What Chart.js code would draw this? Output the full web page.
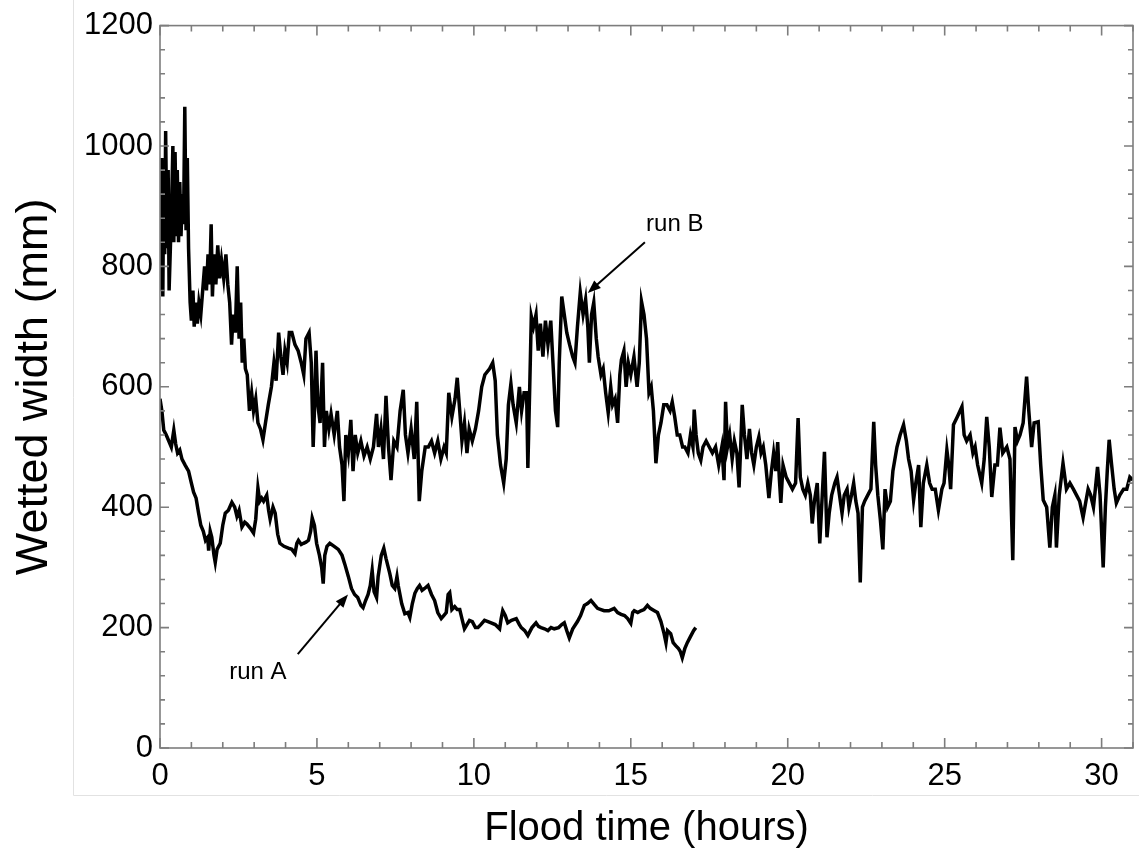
<!DOCTYPE html>
<html>
<head>
<meta charset="utf-8">
<script src="https://cdn.jsdelivr.net/npm/chart.js@4.4.1/dist/chart.umd.min.js"></script>
<style>
  html, body { margin: 0; padding: 0; background: #fff; }
  canvas { display: block; }
</style>
</head>
<body>
<canvas id="chart" width="1139" height="861"></canvas>
<script>
// run B: wetted width (mm) against flood time (hours)
const runBTime = [
  0.00, 0.03, 0.06, 0.09, 0.12, 0.15, 0.18, 0.22, 0.26, 0.29, 0.33, 0.37, 0.41, 0.44, 0.48, 0.52,
  0.55, 0.59, 0.63, 0.67, 0.71, 0.75, 0.79, 0.83, 0.87, 0.91, 0.96, 1.00, 1.05, 1.09, 1.14, 1.19,
  1.24, 1.30, 1.36, 1.42, 1.48, 1.53, 1.58, 1.63, 1.67, 1.72, 1.78, 1.84, 1.90, 1.96, 2.03, 2.10,
  2.16, 2.22, 2.28, 2.33, 2.40, 2.46, 2.52, 2.57, 2.62, 2.67, 2.72, 2.78, 2.85, 2.92, 2.98, 3.05,
  3.12, 3.20, 3.28, 3.36, 3.45, 3.55, 3.63, 3.70, 3.78, 3.85, 3.92, 3.98, 4.05, 4.12, 4.20, 4.30,
  4.40, 4.50, 4.58, 4.65, 4.75, 4.82, 4.88, 4.92, 4.97, 5.03, 5.10, 5.18, 5.24, 5.30, 5.38, 5.45,
  5.55, 5.65, 5.72, 5.80, 5.86, 5.92, 6.00, 6.08, 6.15, 6.22, 6.30, 6.40, 6.50, 6.60, 6.70, 6.80,
  6.90, 6.96, 7.04, 7.12, 7.20, 7.28, 7.36, 7.45, 7.55, 7.65, 7.75, 7.82, 7.90, 8.00, 8.10, 8.18,
  8.26, 8.34, 8.45, 8.55, 8.65, 8.75, 8.85, 8.95, 9.05, 9.12, 9.20, 9.30, 9.40, 9.47, 9.55, 9.62,
  9.70, 9.78, 9.85, 9.95, 10.05, 10.15, 10.25, 10.35, 10.50, 10.60, 10.68, 10.75, 10.85, 10.95, 11.03, 11.10,
  11.18, 11.25, 11.35, 11.45, 11.52, 11.60, 11.68, 11.72, 11.78, 11.83, 11.90, 11.98, 12.05, 12.12, 12.20, 12.28,
  12.36, 12.45, 12.52, 12.60, 12.67, 12.72, 12.80, 12.88, 12.96, 13.05, 13.15, 13.22, 13.30, 13.39, 13.48, 13.56,
  13.63, 13.68, 13.75, 13.82, 13.90, 13.96, 14.05, 14.12, 14.20, 14.28, 14.36, 14.42, 14.50, 14.58, 14.65, 14.70,
  14.78, 14.85, 14.92, 15.00, 15.10, 15.20, 15.27, 15.34, 15.42, 15.50, 15.58, 15.65, 15.72, 15.80, 15.88, 15.96,
  16.05, 16.15, 16.25, 16.32, 16.40, 16.48, 16.56, 16.65, 16.72, 16.82, 16.90, 16.98, 17.02, 17.08, 17.15, 17.23,
  17.30, 17.40, 17.50, 17.60, 17.70, 17.80, 17.90, 17.97, 18.02, 18.08, 18.15, 18.23, 18.30, 18.38, 18.45, 18.50,
  18.55, 18.62, 18.70, 18.78, 18.85, 18.92, 19.00, 19.08, 19.15, 19.22, 19.30, 19.40, 19.48, 19.55, 19.62, 19.68,
  19.73, 19.78, 19.85, 19.95, 20.05, 20.15, 20.25, 20.33, 20.40, 20.48, 20.56, 20.64, 20.72, 20.78, 20.85, 20.94,
  21.02, 21.10, 21.17, 21.25, 21.32, 21.40, 21.50, 21.57, 21.65, 21.73, 21.80, 21.89, 21.95, 22.03, 22.10, 22.17,
  22.24, 22.31, 22.38, 22.45, 22.55, 22.65, 22.74, 22.80, 22.87, 22.95, 23.03, 23.10, 23.18, 23.27, 23.35, 23.48,
  23.58, 23.69, 23.78, 23.85, 23.93, 24.01, 24.08, 24.17, 24.24, 24.32, 24.43, 24.52, 24.60, 24.70, 24.80, 24.91,
  24.98, 25.07, 25.13, 25.19, 25.28, 25.40, 25.55, 25.62, 25.70, 25.81, 25.90, 25.97, 26.05, 26.18, 26.26, 26.34,
  26.42, 26.50, 26.60, 26.68, 26.76, 26.85, 26.98, 27.08, 27.17, 27.24, 27.32, 27.40, 27.50, 27.61, 27.68, 27.77,
  27.85, 27.98, 28.06, 28.14, 28.25, 28.35, 28.43, 28.51, 28.56, 28.65, 28.77, 28.88, 28.99, 29.10, 29.20, 29.30,
  29.41, 29.50, 29.57, 29.65, 29.74, 29.80, 29.87, 29.95, 30.05, 30.12, 30.18, 30.24, 30.32, 30.40, 30.47, 30.58,
  30.70, 30.80, 30.90, 31.00
];
const runBWidth = [
  900, 760, 980, 750, 970, 820, 1025, 830, 960, 760, 830, 900, 1000, 840, 990, 850,
  960, 840, 940, 850, 920, 870, 1065, 860, 980, 830, 740, 710, 760, 700, 740, 705,
  740, 720, 760, 800, 760, 820, 770, 870, 750, 820, 770, 835, 780, 810, 780, 820,
  770, 740, 670, 720, 690, 800, 680, 740, 640, 680, 630, 620, 560, 590, 560, 580,
  540, 530, 512, 540, 570, 600, 640, 610, 690, 650, 620, 660, 640, 690, 690, 670,
  660, 640, 620, 680, 690, 640, 500, 560, 660, 570, 540, 640, 500, 560, 530, 555,
  520, 560, 500, 470, 410, 520, 490, 545, 460, 520, 490, 510, 485, 500, 480, 500,
  555, 500, 530, 480, 585, 500, 445, 510, 500, 560, 595, 520, 490, 530, 480, 575,
  410, 460, 500, 500, 510, 490, 510, 480, 500, 490, 590, 550, 580, 615, 560, 510,
  540, 490, 530, 510, 530, 560, 600, 620, 630, 640, 610, 520, 470, 440, 480, 570,
  605, 570, 540, 600, 560, 590, 590, 465, 600, 717, 700, 720, 660, 705, 650, 710,
  670, 710, 640, 560, 533, 640, 750, 720, 690, 670, 650, 640, 700, 757, 720, 745,
  700, 640, 720, 740, 680, 650, 620, 630, 590, 557, 600, 570, 580, 540, 620, 645,
  660, 600, 640, 620, 650, 600, 640, 742, 720, 680, 590, 600, 560, 473, 520, 540,
  570, 570, 560, 575, 550, 520, 520, 500, 500, 490, 520, 500, 562, 520, 490, 478,
  500, 510, 500, 490, 500, 470, 500, 445, 575, 500, 520, 480, 510, 490, 433, 500,
  570, 520, 480, 530, 490, 470, 500, 517, 490, 500, 470, 415, 460, 490, 460, 508,
  450, 407, 470, 450, 440, 430, 440, 548, 450, 430, 420, 440, 420, 373, 410, 440,
  340, 420, 492, 350, 390, 420, 440, 450, 420, 390, 420, 430, 400, 420, 440, 410,
  390, 275, 400, 410, 420, 430, 542, 470, 420, 380, 330, 430, 400, 410, 460, 500,
  520, 537, 510, 480, 460, 412, 440, 470, 367, 440, 470, 440, 430, 430, 395, 430,
  440, 495, 470, 430, 537, 550, 567, 520, 510, 520, 490, 500, 470, 440, 480, 550,
  500, 417, 470, 470, 532, 490, 500, 480, 312, 533, 510, 520, 540, 617, 560, 500,
  540, 542, 470, 412, 400, 333, 400, 420, 333, 420, 473, 430, 440, 430, 420, 410,
  383, 410, 430, 420, 400, 430, 467, 420, 300, 400, 460, 512, 470, 430, 407, 420,
  430, 430, 450, 445
];

// run A
const runATime = [
  0.00, 0.06, 0.12, 0.20, 0.28, 0.36, 0.44, 0.50, 0.56, 0.63, 0.70, 0.80, 0.91, 1.00, 1.07, 1.15,
  1.23, 1.30, 1.38, 1.45, 1.52, 1.55, 1.60, 1.65, 1.72, 1.76, 1.82, 1.92, 2.00, 2.08, 2.18, 2.29,
  2.38, 2.45, 2.52, 2.61, 2.70, 2.77, 2.88, 2.98, 3.05, 3.12, 3.18, 3.24, 3.30, 3.40, 3.46, 3.51,
  3.60, 3.67, 3.75, 3.82, 3.95, 4.09, 4.20, 4.30, 4.36, 4.41, 4.50, 4.57, 4.65, 4.73, 4.80, 4.85,
  4.92, 4.99, 5.08, 5.15, 5.20, 5.25, 5.32, 5.41, 5.55, 5.68, 5.80, 5.89, 6.00, 6.10, 6.20, 6.30,
  6.40, 6.47, 6.55, 6.63, 6.70, 6.76, 6.82, 6.90, 6.95, 7.05, 7.13, 7.20, 7.32, 7.40, 7.48, 7.55,
  7.59, 7.70, 7.80, 7.90, 7.96, 8.04, 8.12, 8.20, 8.27, 8.35, 8.43, 8.54, 8.65, 8.75, 8.85, 8.96,
  9.04, 9.12, 9.18, 9.23, 9.30, 9.39, 9.47, 9.55, 9.62, 9.70, 9.78, 9.86, 9.95, 10.05, 10.13, 10.22,
  10.34, 10.45, 10.55, 10.68, 10.82, 10.87, 10.92, 11.00, 11.08, 11.20, 11.35, 11.45, 11.51, 11.62, 11.72, 11.85,
  11.98, 12.06, 12.14, 12.25, 12.36, 12.46, 12.56, 12.70, 12.80, 12.88, 12.96, 13.04, 13.15, 13.30, 13.40, 13.52,
  13.62, 13.73, 13.84, 13.94, 14.05, 14.15, 14.30, 14.47, 14.58, 14.69, 14.80, 14.90, 15.00, 15.06, 15.11, 15.22,
  15.32, 15.42, 15.53, 15.62, 15.75, 15.85, 15.96, 16.06, 16.12, 16.17, 16.27, 16.35, 16.43, 16.52, 16.58, 16.64,
  16.72, 16.80, 16.90, 17.00, 17.07
];
const runAWidth = [
  580, 560, 528, 520, 510, 500, 528, 505, 490, 495, 480, 470, 460, 440, 425, 415,
  390, 370, 360, 345, 350, 328, 360, 350, 320, 308, 330, 340, 370, 390, 395, 408,
  400, 385, 395, 367, 375, 372, 365, 357, 380, 432, 410, 415, 410, 420, 395, 380,
  400, 390, 355, 340, 335, 332, 330, 323, 340, 345, 338, 340, 342, 345, 360, 382,
  370, 340, 320, 300, 273, 320, 335, 340, 335, 330, 320, 305, 285, 265, 255, 250,
  237, 233, 245, 255, 270, 295, 260, 250, 285, 320, 332, 315, 290, 270, 265, 285,
  270, 240, 223, 225, 217, 240, 257, 265, 270, 262, 265, 270, 255, 245, 225, 215,
  220, 225, 255, 258, 230, 235, 230, 230, 215, 198, 205, 212, 210, 200, 200, 205,
  212, 210, 208, 205, 198, 215, 228, 220, 208, 212, 215, 205, 200, 195, 187, 200,
  208, 202, 200, 198, 195, 200, 198, 200, 205, 208, 195, 183, 198, 210, 220, 237,
  240, 245, 238, 232, 230, 228, 228, 232, 225, 222, 220, 215, 207, 225, 228, 225,
  228, 230, 237, 232, 228, 225, 210, 190, 175, 195, 190, 175, 170, 165, 160, 150,
  165, 175, 185, 195, 200
];

// axis ranges and tick steps
const xMax = 31;
const yMax = 1200;
const xStep = 5;
const yStep = 200;
const xMinorStep = 1;
const yMinorStep = 40;

// labels with their arrows, in data units [time, width]
const notes = [
  { text: "run B", at: [16.4, 869], from: [15.45, 840], to: [13.63, 756] },
  { text: "run A", at: [3.12, 126], from: [4.39, 156], to: [5.99, 255] },
];

const fontFamily = "'Liberation Sans', Arial, sans-serif";
const toPoints = (xs, ys) => xs.map((t, i) => ({ x: t, y: ys[i] }));

function drawArrow(ctx, x1, y1, x2, y2) {
  const ang = Math.atan2(y2 - y1, x2 - x1);
  const head = 13;
  ctx.beginPath();
  ctx.moveTo(x1, y1);
  ctx.lineTo(x2 - Math.cos(ang) * head * 0.8, y2 - Math.sin(ang) * head * 0.8);
  ctx.stroke();
  ctx.beginPath();
  ctx.moveTo(x2, y2);
  ctx.lineTo(x2 - head * Math.cos(ang) + 5 * Math.sin(ang), y2 - head * Math.sin(ang) - 5 * Math.cos(ang));
  ctx.lineTo(x2 - head * Math.cos(ang) - 5 * Math.sin(ang), y2 - head * Math.sin(ang) + 5 * Math.cos(ang));
  ctx.closePath();
  ctx.fill();
}

const frameTicks = {
  id: "frameTicks",
  beforeDraw(chart) {
    // faint edges of the scanned page
    const ctx = chart.ctx;
    ctx.save();
    ctx.strokeStyle = "#e2e2e2";
    ctx.lineWidth = 1;
    ctx.beginPath();
    ctx.moveTo(73.5, 0);
    ctx.lineTo(73.5, 795.5);
    ctx.lineTo(chart.width, 795.5);
    ctx.stroke();
    ctx.restore();
  },
  afterDatasetsDraw(chart) {
    const { ctx, chartArea: a, scales: { x, y } } = chart;
    ctx.save();
    ctx.strokeStyle = "#7d7d7d";
    ctx.lineWidth = 1.6;
    ctx.strokeRect(a.left, a.top, a.right - a.left, a.bottom - a.top);
    ctx.beginPath();
    for (let t = 0; t <= xMax; t += xMinorStep) {
      const px = x.getPixelForValue(t);
      const len = t % xStep === 0 ? 10 : 6;
      ctx.moveTo(px, a.bottom);
      ctx.lineTo(px, a.bottom - len);
      ctx.moveTo(px, a.top);
      ctx.lineTo(px, a.top + len);
    }
    for (let v = 0; v <= yMax; v += yMinorStep) {
      const py = y.getPixelForValue(v);
      const len = v % yStep === 0 ? 9 : 5;
      ctx.moveTo(a.left, py);
      ctx.lineTo(a.left + len, py);
      ctx.moveTo(a.right, py);
      ctx.lineTo(a.right - len, py);
    }
    ctx.stroke();

    ctx.fillStyle = "#000";
    ctx.strokeStyle = "#000";
    ctx.lineWidth = 2;
    ctx.font = "24px " + fontFamily;
    ctx.textAlign = "center";
    ctx.textBaseline = "middle";
    notes.forEach((n) => {
      ctx.fillText(n.text, x.getPixelForValue(n.at[0]), y.getPixelForValue(n.at[1]));
      drawArrow(ctx,
        x.getPixelForValue(n.from[0]), y.getPixelForValue(n.from[1]),
        x.getPixelForValue(n.to[0]), y.getPixelForValue(n.to[1]));
    });
    ctx.restore();
  },
};

const lineStyle = {
  showLine: true,
  pointRadius: 0,
  borderColor: "#000",
  borderWidth: 3.5,
  tension: 0,
  fill: false,
};

new Chart(document.getElementById("chart"), {
  type: "scatter",
  plugins: [frameTicks],
  data: {
    datasets: [
      { label: "run B", data: toPoints(runBTime, runBWidth), ...lineStyle },
      { label: "run A", data: toPoints(runATime, runAWidth), ...lineStyle },
    ],
  },
  options: {
    responsive: false,
    animation: false,
    layout: { padding: { left: 0, top: 24, right: 6, bottom: 0 } },
    plugins: { legend: { display: false }, tooltip: { enabled: false } },
    scales: {
      x: {
        type: "linear",
        min: 0,
        max: xMax,
        grid: { display: false, drawTicks: false },
        border: { display: false },
        ticks: {
          stepSize: xStep,
          includeBounds: false,
          padding: 10,
          color: "#000",
          font: { family: fontFamily, size: 31 },
          callback: (v) => String(v),
        },
        title: {
          display: true,
          text: "Flood time (hours)",
          color: "#000",
          padding: { top: 0, bottom: 8 },
          font: { family: fontFamily, size: 40 },
        },
        afterFit: (scale) => { scale.height = 113; },
      },
      y: {
        type: "linear",
        min: 0,
        max: yMax,
        grid: { display: false, drawTicks: false },
        border: { display: false },
        ticks: {
          stepSize: yStep,
          padding: 7,
          color: "#000",
          font: { family: fontFamily, size: 31 },
          callback: (v) => String(v),
        },
        title: {
          display: true,
          text: "Wetted width (mm)",
          color: "#000",
          padding: { top: 8, bottom: 0 },
          font: { family: fontFamily, size: 45 },
        },
        afterFit: (scale) => { scale.width = 160; },
      },
    },
  },
});
</script>
</body>
</html>
